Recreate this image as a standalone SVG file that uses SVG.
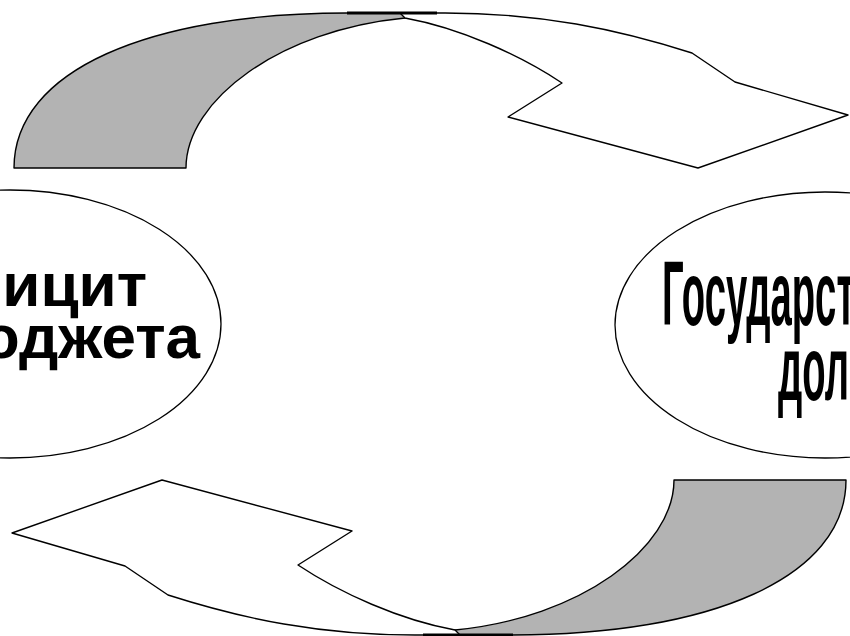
<svg xmlns="http://www.w3.org/2000/svg" width="850" height="636" viewBox="0 0 850 636">
<style>
.ell{fill:#fff;stroke:#000;stroke-width:1.3}
.back{fill:#b3b3b3;stroke:#000;stroke-width:1.4;stroke-linejoin:round}
.front{fill:#fff;stroke:#000;stroke-width:1.4;stroke-linejoin:round}
.edge{fill:none;stroke:#000;stroke-width:3}
.lt{font-family:"Liberation Sans",Arial,sans-serif;font-weight:bold;font-size:62px;fill:#000}
.rt{font-family:"Liberation Sans",Arial,sans-serif;font-weight:bold;font-size:50px;fill:#000}
</style>
<defs>
<g id="arrow">
<path class="back" d="M14,168 C14,70 150,13 347,13 L430,13 L405,18 C280,30 186,100 186,168 Z"/>
<path class="front" d="M400,13 L437,13 C540,12 620,30 692,53 L735,82 L848,115 L698,168 L508,117 L562,83 C520,55 460,28 405,18 Z"/>
<path class="edge" d="M347,13 L437,13"/>
</g>
</defs>
<rect width="850" height="636" fill="#fff"/>
<g id="connectors">
<use href="#arrow"/>
<use href="#arrow" transform="rotate(180 430 324)"/>
</g>
<g id="node-deficit">
<ellipse class="ell" cx="10" cy="324" rx="211" ry="134"/>
<text class="lt" x="147" y="306" text-anchor="end">Дефицит</text>
<text class="lt" x="200" y="358" text-anchor="end">бюджета</text>
</g>
<g id="node-debt">
<ellipse class="ell" cx="825" cy="325" rx="210" ry="133"/>
<text class="rt" transform="translate(662,325) scale(0.765,1.82)">Государственный</text>
<text class="rt" transform="translate(778,400) scale(0.765,1.82)">долг</text>
</g>
</svg>
